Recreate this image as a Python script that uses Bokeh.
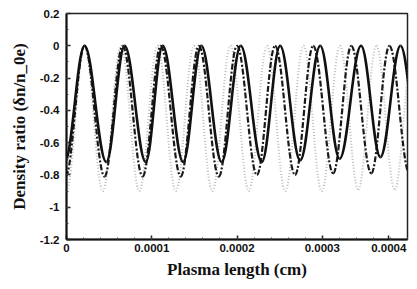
from bokeh.plotting import figure
from bokeh.models import Range1d, FixedTicker
from bokeh.embed import file_html
from bokeh.resources import INLINE

# Extrema (alternating troughs and peaks).
# x in micrometres (1 um = 0.0001 cm), y = density ratio.
solid_x = [-0.020, 0.212, 0.467, 0.682, 0.929, 1.129, 1.368, 1.582, 1.820,
           2.044, 2.291, 2.506, 2.741, 2.976, 3.204, 3.455, 3.682, 3.918, 4.150]
solid_y = [-0.72, 0.0, -0.72, 0.0, -0.72, 0.0, -0.72, 0.0, -0.72,
           0.0, -0.72, 0.0, -0.71, 0.0, -0.70, 0.0, -0.69, 0.0, -0.69]

dashdot_x = [-0.011, 0.212, 0.446, 0.659, 0.893, 1.106, 1.340, 1.553, 1.787,
             2.000, 2.234, 2.447, 2.681, 2.894, 3.128, 3.341, 3.575, 3.788, 4.022]
dashdot_y = [-0.81, 0.0, -0.81, 0.0, -0.81, 0.0, -0.81, 0.0, -0.81,
             0.0, -0.80, 0.0, -0.80, 0.0, -0.79, 0.0, -0.79, 0.0, -0.79]

dotted_x = [-0.002, 0.212, 0.426, 0.640, 0.854, 1.068, 1.282, 1.496, 1.710,
            1.924, 2.138, 2.352, 2.566, 2.780, 2.994, 3.208, 3.422, 3.636,
            3.850, 4.064]
dotted_y = [-0.90, 0.0, -0.90, 0.0, -0.90, 0.0, -0.90, 0.0, -0.90,
            0.0, -0.90, 0.0, -0.90, 0.0, -0.90, 0.0, -0.89, 0.0, -0.89, 0.0]

x_ticks = [0.0, 0.0001, 0.0002, 0.0003, 0.000378]
x_tick_labels = ["0", "0.0001", "0.0002", "0.0003", "0.0004"]
y_ticks = [0.2, 0.0, -0.2, -0.4, -0.6, -0.8, -1.0, -1.2]
y_tick_labels = ["0.2", "0", "-0.2", "-0.4", "-0.6", "-0.8", "-1", "-1.2"]

UM_TO_CM = 1e-4
K = 0.364  # control-point fraction for smooth half-wave segments


def smooth(p, xs, ys, **style):
    xs = [v * UM_TO_CM for v in xs]
    x0, y0, x1, y1, cx0, cy0, cx1, cy1 = ([] for _ in range(8))
    for i in range(len(xs) - 1):
        dx = xs[i + 1] - xs[i]
        x0.append(xs[i]); y0.append(ys[i])
        x1.append(xs[i + 1]); y1.append(ys[i + 1])
        cx0.append(xs[i] + K * dx); cy0.append(ys[i])
        cx1.append(xs[i + 1] - K * dx); cy1.append(ys[i + 1])
    p.bezier(x0=x0, y0=y0, x1=x1, y1=y1, cx0=cx0, cy0=cy0, cx1=cx1, cy1=cy1,
             **style)


p = figure(width=409, height=281, output_backend="svg", toolbar_location=None,
           x_range=Range1d(0, 0.0004), y_range=Range1d(-1.2, 0.2),
           min_border_left=66, min_border_right=2, min_border_top=13,
           min_border_bottom=41)

smooth(p, dotted_x, dotted_y, line_color="#bdbdbd", line_width=2.0,
       line_dash="1 2")
smooth(p, dashdot_x, dashdot_y, line_color="#1a1a1a", line_width=2.2,
       line_dash="6 2 2 2")
smooth(p, solid_x, solid_y, line_color="#111111", line_width=2.6)

p.grid.visible = False
p.outline_line_color = "#222222"
p.outline_line_width = 1.5
p.background_fill_color = "white"
p.border_fill_color = "white"

xa = p.xaxis[0]
xa.ticker = FixedTicker(ticks=x_ticks,
                        minor_ticks=[i * 0.00002 for i in range(21)])
xa.major_label_overrides = {t: l for t, l in zip(x_ticks, x_tick_labels)}
ya = p.yaxis[0]
ya.ticker = FixedTicker(ticks=y_ticks,
                        minor_ticks=[0.2 - i * 0.1 for i in range(15)])
ya.major_label_overrides = {t: l for t, l in zip(y_ticks, y_tick_labels)}

for ax in (xa, ya):
    ax.axis_line_width = 2
    ax.axis_line_color = "#111111"
    ax.major_tick_in = 4
    ax.major_tick_out = 0
    ax.minor_tick_in = 2
    ax.minor_tick_out = 0
    ax.major_tick_line_width = 1.5
    ax.major_tick_line_color = "#222222"
    ax.minor_tick_line_color = "#444444"
    ax.major_label_text_font = "Liberation Sans"
    ax.major_label_text_font_style = "bold"
    ax.major_label_text_font_size = "11.5px"
    ax.major_label_text_color = "#111111"
    ax.axis_label_text_font = "Liberation Serif"
    ax.axis_label_text_font_style = "bold"
    ax.axis_label_text_font_size = "17px"
    ax.axis_label_text_color = "#111111"

xa.axis_label = "Plasma length (cm)"
xa.major_label_standoff = 4
xa.axis_label_standoff = 5
ya.axis_label = "Density ratio (\u03b4n/n_0e)"
ya.major_label_standoff = 7
ya.axis_label_standoff = 8

open("out.html", "w").write(file_html(p, INLINE))
